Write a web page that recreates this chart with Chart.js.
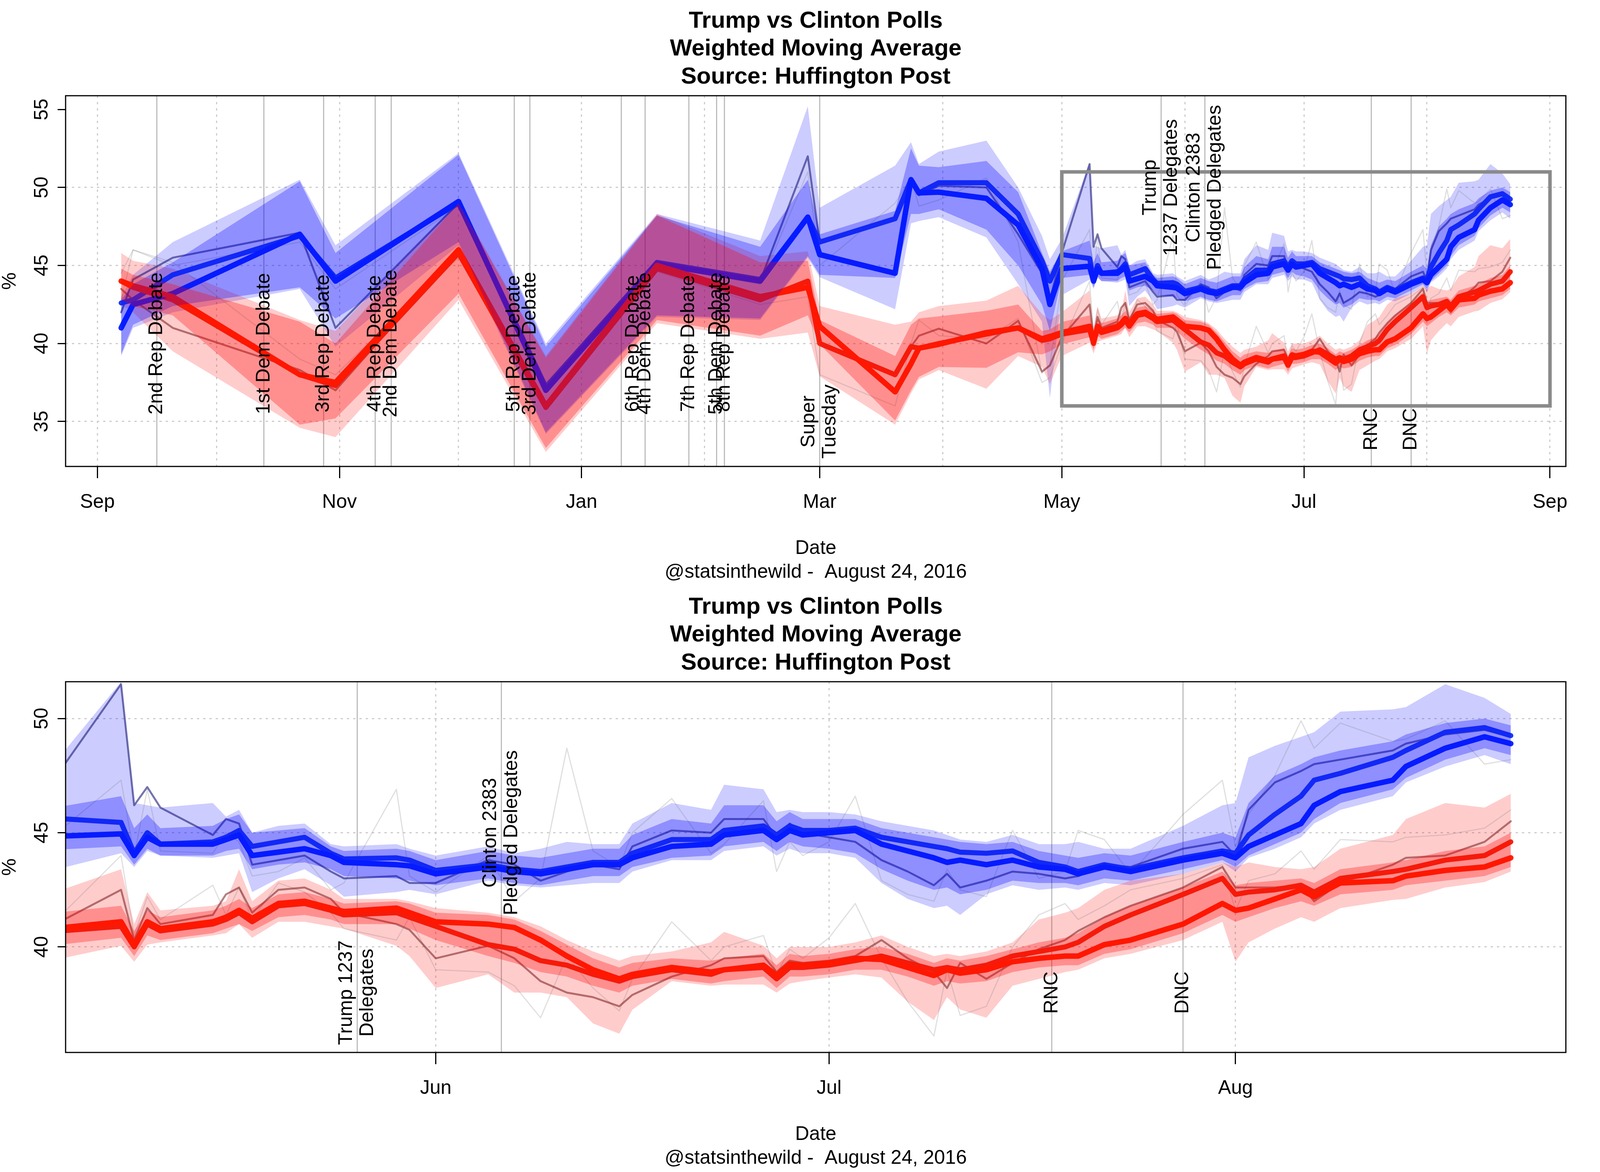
<!DOCTYPE html>
<html>
<head>
<meta charset="utf-8">
<script src="https://cdn.jsdelivr.net/npm/chart.js@4.4.1/dist/chart.umd.min.js"></script>
<style>
html,body{margin:0;padding:0;background:#fff;overflow:hidden;}
#wrap{position:relative;background:#fff;}
canvas{position:absolute;left:0;}
</style>
</head>
<body>
<div id="wrap">
<canvas id="c1"></canvas>
<canvas id="c2"></canvas>
</div>
<script>
// ---- DATA (x = days since 2015-09-01) ----
const days = [6,9,19,51,60,91,113,141,167,179,182,201,205,207,212,224,232,238,240,243,
250,251,252,253,257,258,259,260,262,264,
266,267,271,272,274,278,280,282,284,286,
288,289,292,295,296,299,300,301,302,304,
306,308,310,312,313,314,316,318,320,322,
323,325,327,331,334,335,336,338,340,341,
343,347,348,351,354,356];

const clintonA = [41.0,42.5,43.2,47.0,44.0,49.1,37.0,45.1,44.0,48.1,45.7,44.5,50.5,49.65,49.7,49.3,47.6,44.8,42.5,44.8,
44.95,44.0,44.8,44.5,44.5,44.7,44.9,44.0,44.15,44.3,
44.0,43.7,43.6,43.55,43.2,43.5,43.3,43.2,43.4,43.6,
43.6,43.9,44.4,44.5,44.9,45.1,44.7,45.1,44.9,45.0,
45.1,44.5,44.2,43.9,43.7,43.8,43.6,43.8,43.5,43.4,
43.2,43.5,43.3,43.8,44.1,43.9,44.4,44.9,45.4,46.2,
46.8,47.3,47.9,48.7,49.2,48.9];
const clintonB = [42.6,42.8,44.4,46.9,44.2,49.0,37.2,45.2,44.1,48.1,46.5,48.0,50.5,49.65,50.3,50.3,48.3,45.3,44.0,45.7,
45.45,44.1,45.0,44.5,44.6,44.8,45.1,44.4,44.6,44.8,
44.1,43.85,43.9,43.8,43.35,43.6,43.4,43.3,43.5,43.7,
43.7,44.1,44.7,44.7,45.1,45.3,44.9,45.3,45.1,45.1,
45.2,44.8,44.6,44.4,44.3,44.15,44.1,44.2,43.7,43.5,
43.3,43.6,43.4,43.9,44.2,44.1,44.9,45.8,46.6,47.3,
47.6,48.3,48.6,49.4,49.6,49.25];
const clintonC = [42.0,44.1,45.5,47.1,41.0,49.0,37.0,45.0,44.0,52.0,46.5,48.0,50.5,49.5,50.1,50.0,47.0,44.5,42.8,45.8,
51.5,46.2,47.0,46.1,44.9,45.6,45.4,43.6,43.8,44.0,
43.3,43.0,43.1,42.8,42.8,43.8,43.6,42.9,43.3,43.6,
43.4,44.4,45.1,45.0,45.6,45.6,44.8,45.4,45.0,44.8,
44.6,43.8,43.3,42.7,43.2,42.6,42.9,43.3,43.2,43.0,
43.1,43.6,43.5,44.3,44.6,44.0,46.0,47.2,47.7,48.0,
48.2,48.6,48.9,49.3,49.5,49.2];
const clintonD = [42.8,46.0,45.0,46.5,43.5,48.8,37.5,45.0,43.8,51.0,45.0,49.0,50.6,48.8,49.2,50.6,46.5,38.1,38.6,44.0,
47.3,44.0,46.9,44.2,44.1,45.0,44.6,43.1,43.3,43.9,
42.5,42.8,46.9,43.1,42.4,44.0,42.0,43.0,48.7,44.2,
43.5,45.0,46.5,44.1,44.5,46.4,43.3,44.6,44.0,44.6,
46.6,42.9,42.3,42.0,43.4,42.5,42.2,45.1,43.0,43.3,
45.1,44.7,43.2,45.8,47.3,44.4,45.8,47.5,49.9,48.7,
49.8,49.0,49.1,49.9,48.0,48.2];
const clintonOuterHi = [43.0,44.4,46.5,50.5,46.3,52.2,40.0,48.3,46.6,55.2,48.7,51.4,52.9,51.5,52.3,53.0,50.0,46.9,45.4,46.7,
51.6,46.3,46.2,46.1,46.3,45.7,46.0,45.0,45.3,45.4,
44.5,44.4,44.5,44.3,44.0,44.4,44.1,44.3,44.6,44.5,
44.5,45.4,46.3,46.0,47.1,46.9,45.9,46.0,45.9,45.9,
45.8,45.5,45.3,45.1,44.9,44.7,44.6,44.9,44.5,44.5,
44.6,44.3,44.3,45.3,46.2,46.3,48.3,48.8,49.2,49.4,
50.3,50.4,50.5,51.5,50.9,50.2];
const clintonOuterLo = [39.2,41.0,42.0,43.5,39.8,46.3,34.2,41.7,41.5,45.5,44.25,42.2,47.7,47.85,48.1,46.8,43.8,41.4,36.5,43.1,
44.1,43.5,44.2,44.0,43.9,44.0,44.1,42.4,43.0,43.4,
42.7,42.2,42.4,42.5,42.3,42.9,42.7,42.6,42.7,42.8,
42.8,43.3,43.8,43.8,44.2,44.4,44.0,44.3,44.1,44.1,
43.9,42.8,42.1,41.7,41.8,41.4,42.3,42.7,42.5,42.6,
42.5,42.8,42.7,43.2,43.7,43.3,43.9,44.3,44.8,45.4,
46.0,46.6,47.2,47.9,48.4,48.0];
const clintonInnerHi = [42.8,43.8,45.2,50.4,45.8,52.1,39.8,48.2,46.2,50.5,47.0,48.5,52.5,51.4,51.3,51.7,49.7,45.8,44.6,45.9,
46.6,45.2,45.8,45.2,45.3,45.6,45.8,45.0,45.1,45.2,
44.4,44.2,44.3,44.2,43.8,44.2,44.0,43.9,44.1,44.3,
44.3,44.9,45.6,45.4,46.2,46.2,45.5,45.9,45.6,45.6,
45.6,45.2,45.0,44.8,44.7,44.6,44.5,44.6,44.2,44.0,
43.9,44.1,44.0,44.6,45.0,44.8,46.3,47.5,48.0,48.3,
48.6,49.0,49.3,49.8,50.0,49.7];
const clintonInnerLo = [39.3,41.2,42.4,43.6,41.6,46.5,34.3,41.8,41.6,45.6,44.4,44.2,48.3,48.3,48.6,47.3,45.0,42.5,40.8,44.2,
44.4,43.6,44.3,44.0,44.0,44.2,44.3,43.4,43.6,43.7,
43.4,43.1,43.0,42.9,42.7,43.0,42.8,42.7,42.9,43.1,
43.1,43.5,43.9,44.0,44.4,44.6,44.2,44.6,44.4,44.3,
44.1,43.4,42.9,42.5,42.6,42.3,42.5,42.9,42.8,42.8,
42.7,43.0,42.9,43.4,43.8,43.5,44.0,44.5,45.0,45.6,
46.3,46.9,47.4,48.2,48.7,48.4];

const trumpA = [44.0,43.7,43.0,38.0,37.5,46.0,36.0,45.0,43.0,43.6,41.1,36.9,38.7,39.7,39.95,40.7,41.0,40.3,40.45,40.7,
41.1,40.1,41.1,40.8,41.1,41.3,41.6,41.25,41.9,42.0,
41.7,41.55,41.7,41.5,41.1,41.0,40.85,40.3,39.6,39.0,
38.6,38.8,39.1,38.9,39.0,39.2,38.75,39.25,39.2,39.3,
39.5,39.45,39.1,38.75,39.0,38.85,39.0,39.35,39.5,39.6,
39.6,40.1,40.3,41.0,41.9,41.6,41.7,42.1,42.5,42.2,
42.8,42.9,43.1,43.35,43.5,43.9];
const trumpB = [44.0,43.6,42.8,38.0,37.3,45.8,35.9,44.8,42.8,44.0,40.0,38.0,39.8,39.7,40.0,40.6,41.0,40.2,40.3,40.6,
40.9,40.0,41.0,40.7,41.0,41.2,41.5,41.1,41.8,41.9,
41.6,41.4,41.5,41.3,40.9,40.1,39.9,39.4,39.2,38.8,
38.5,38.7,39.0,38.8,39.0,39.1,38.6,39.1,39.1,39.2,
39.4,39.6,39.3,39.0,39.1,39.0,39.2,39.6,39.8,40.0,
40.2,40.9,41.4,42.3,43.0,42.3,42.4,42.5,42.7,42.4,
43.0,43.3,43.4,43.8,44.0,44.6];
const trumpC = [43.5,42.8,41.0,38.3,37.0,45.9,36.0,45.0,43.0,44.0,40.1,38.0,39.8,40.5,40.95,40.0,41.45,38.2,38.6,40.4,
42.5,40.3,41.7,41.0,41.4,42.3,42.6,41.5,42.5,42.6,
42.1,41.5,41.0,40.75,39.5,40.05,39.5,38.5,38.0,37.8,
37.4,37.9,38.7,39.2,39.5,39.6,38.9,39.4,39.3,39.4,
39.6,40.3,39.5,38.9,38.2,39.3,38.6,39.3,39.9,40.3,
40.7,41.3,41.8,42.6,43.5,42.6,42.6,42.6,42.7,42.0,
42.8,43.6,43.9,44.0,44.6,45.5];
const trumpD = [44.5,46.0,45.2,39.0,38.0,45.5,36.2,44.6,42.5,43.0,38.0,36.0,40.0,41.5,40.5,40.3,41.6,37.5,37.8,40.0,
44.0,40.5,42.2,41.2,42.7,41.4,42.6,41.2,42.8,42.4,
41.5,40.8,40.3,41.3,39.0,38.9,38.3,36.9,39.6,38.2,
37.2,38.6,41.1,39.4,40.0,40.5,38.8,39.9,39.5,40.4,
41.9,39.5,37.6,36.1,39.0,37.0,37.4,40.0,41.4,41.9,
41.2,41.8,42.5,43.0,43.6,41.6,42.9,43.2,44.2,43.4,
44.7,44.6,44.8,44.9,45.2,46.0];
const trumpOuterHi = [45.8,45.3,44.8,41.5,40.8,49.1,39.2,48.3,45.6,45.9,42.4,41.2,41.4,42.0,42.4,42.75,43.7,41.9,41.5,42.0,
43.4,41.0,42.4,41.6,41.8,42.0,43.4,42.0,42.9,43.0,
42.5,42.1,42.1,42.0,41.7,41.5,41.3,40.9,40.3,39.8,
39.4,39.6,39.8,40.2,40.66,40.05,39.5,40.0,40.0,40.0,
40.2,40.5,40.0,39.6,39.7,39.6,39.8,40.2,41.2,41.5,
41.7,42.5,42.9,43.2,43.7,43.5,43.7,43.5,43.4,43.5,
44.3,44.9,45.6,46.3,46.1,46.7];
const trumpOuterLo = [42.5,42.0,39.5,34.6,34.0,42.8,33.05,41.3,40.3,40.7,37.9,34.8,36.8,37.7,38.3,37.1,39.2,38.5,37.4,39.2,
40.05,39.35,40.1,40.2,40.5,40.6,41.0,40.4,41.1,41.1,
40.9,40.8,40.05,39.6,38.2,38.8,38.0,38.0,37.8,36.65,
36.2,37.25,38.5,38.3,38.35,38.35,38.0,38.4,38.5,38.66,
38.8,38.66,37.6,36.8,37.8,37.26,36.9,38.3,38.6,38.9,
39.0,39.5,39.7,40.3,41.1,39.35,40.2,40.8,41.3,41.1,
41.7,42.06,42.1,42.6,42.84,43.3];
const trumpInnerHi = [44.8,44.4,43.8,41.4,40.0,49.0,39.1,48.2,45.2,45.3,41.5,39.2,41.2,41.6,41.74,42.1,42.5,40.8,40.9,41.38,
41.8,40.7,41.6,41.3,41.6,41.8,42.1,41.7,42.3,42.4,
42.1,41.9,42.0,41.9,41.5,41.4,41.2,40.7,40.1,39.5,
39.1,39.3,39.5,39.4,39.5,39.7,39.2,39.7,39.6,39.7,
39.9,40.0,39.7,39.3,39.5,39.4,39.6,39.9,40.2,40.4,
40.6,41.3,41.8,42.6,43.3,42.7,42.8,42.9,43.0,42.8,
43.4,43.7,43.8,44.2,44.4,45.0];
const trumpInnerLo = [42.8,42.4,41.8,34.8,35.2,43.2,33.3,41.5,40.5,41.8,39.95,35.06,37.0,37.86,38.5,38.44,39.44,39.3,39.5,39.95,
40.4,39.6,40.5,40.3,40.6,40.8,41.0,40.7,41.3,41.4,
41.2,41.0,41.0,40.8,40.3,39.6,39.3,38.9,38.7,38.3,
38.0,38.3,38.6,38.4,38.5,38.7,38.2,38.7,38.7,38.8,
39.0,39.0,38.7,38.3,38.5,38.4,38.5,38.9,39.1,39.2,
39.2,39.7,39.9,40.6,41.4,41.1,41.3,41.7,42.0,41.8,
42.3,42.5,42.7,42.9,43.1,43.5];

const boxDays = [243,366,366,243,243];
const boxVals = [51,51,36,36,51];

const monthDays  = [0,30,61,91,122,153,182,213,243,274,304,335,366];
const monthNames = ['Sep','Oct','Nov','Dec','Jan','Feb','Mar','Apr','May','Jun','Jul','Aug','Sep'];
const upperLabeledMonths = [0,61,122,182,243,304,366];
const lowerLabeledMonths = [274,304,335];

const upperEventDays = [15,42,57,70,74,105,109,132,138,149,156,158,182,268,279,321,331];
const upperLabelDays = [15,42,57,70,74,105,109,135,138,149,156,158,182,268,279,321,331];
const upperLabelText = ['2nd Rep Debate','1st Dem Debate','3rd Rep Debate','4th Rep Debate','2nd Dem Debate',
  '5th Rep Debate','3rd Dem Debate','6th Rep Debate','4th Dem Debate','7th Rep Debate','5th Dem Debate',
  '8th Rep Debate','Super\nTuesday','Trump\n1237 Delegates','Clinton 2383\nPledged Delegates','RNC','DNC'];
const upperLabelY = [40,40,40,40,40,40,40,40,40,40,40,40,35,50,50,34.5,34.5];
const lowerEventDays = [268,279,321,331];
const lowerLabelText = ['Trump 1237\nDelegates','Clinton 2383\nPledged Delegates','RNC','DNC'];
const lowerLabelY = [38,45,38,38];

const upperYTicks = [35,40,45,50,55];
const upperYGrid = [35,40,45,50];
const lowerYTicks = [40,45,50];

const titleLines = ['Trump vs Clinton Polls','Weighted Moving Average','Source: Huffington Post'];
const xTitleLines = ['Date','@statsinthewild -  August 24, 2016'];

[clintonA,clintonB,clintonC,clintonD,clintonOuterHi,clintonOuterLo,clintonInnerHi,clintonInnerLo,
 trumpA,trumpB,trumpC,trumpD,trumpOuterHi,trumpOuterLo,trumpInnerHi,trumpInnerLo].forEach((a,i)=>{
  if (a.length !== days.length) throw new Error('length mismatch in series ' + i + ': ' + a.length);
});

// ---- LAYOUT: fit the 6000x3000 design into the actual window ----
const W = Math.max(800, Math.min(6000, window.innerWidth || 6000));
const H = Math.max(600, Math.min(3000, window.innerHeight || 3000));
const sx = W / 6000, sy = H / 3000;
const PH = Math.round(H / 2);
const wrap = document.getElementById('wrap');
wrap.style.width = W + 'px'; wrap.style.height = H + 'px';
['c1','c2'].forEach((id, k) => {
  const c = document.getElementById(id);
  c.width = W; c.height = PH; c.style.top = (k * PH) + 'px';
  c.style.width = W + 'px'; c.style.height = PH + 'px';
});

// ---- RENDERING ----
const FONT = '"Liberation Sans", Arial, Helvetica, sans-serif';
const FS = Math.round(50 * sy);
const TFS = Math.round(60 * sy);
function pts(arr){ return days.map((d,i)=>({x:d, y:arr[i]})); }

function buildDatasets(withBox){
  const L = [];
  const band = (hi, lo, color, order) => {
    L.push({data: pts(hi), fill: '+1', backgroundColor: color, borderColor: 'rgba(0,0,0,0)', borderWidth: 0, pointRadius: 0, order: order, clip: 0});
    L.push({data: pts(lo), fill: false, backgroundColor: 'rgba(0,0,0,0)', borderColor: 'rgba(0,0,0,0)', borderWidth: 0, pointRadius: 0, order: order, clip: 0});
  };
  const line = (arr, color, w, order) => L.push({data: pts(arr), borderColor: color, borderWidth: w, pointRadius: 0,
    fill: false, order: order, clip: 0, borderJoinStyle: 'round', borderCapStyle: 'round'});
  band(clintonOuterHi, clintonOuterLo, 'rgba(0,0,255,0.2)', 100);
  band(trumpOuterHi, trumpOuterLo, 'rgba(255,0,0,0.2)', 90);
  line(clintonD, 'rgba(110,110,120,0.22)', 3, 80);
  line(trumpD, 'rgba(120,110,110,0.22)', 3, 79);
  line(clintonC, 'rgba(25,25,120,0.6)', 5, 70);
  line(trumpC, 'rgba(120,25,25,0.55)', 5, 69);
  line(clintonB, '#1b3af2', 13, 60);
  line(trumpB, '#f2260f', 13, 59);
  line(clintonA, '#0a28ff', 14, 50);
  line(trumpA, '#ff2200', 14, 49);
  band(clintonInnerHi, clintonInnerLo, 'rgba(0,0,255,0.3)', 40);
  band(trumpInnerHi, trumpInnerLo, 'rgba(255,0,0,0.3)', 30);
  if (withBox) {
    L.push({data: boxDays.map((d,i)=>({x:d, y:boxVals[i]})), borderColor: '#8a8a8a', borderWidth: 9, pointRadius: 0,
      fill: false, order: 10, clip: 0, borderJoinStyle: 'miter', borderCapStyle: 'square'});
  }
  return L;
}

function rot(ctx, s, x, y){
  ctx.save(); ctx.translate(x, y); ctx.rotate(-Math.PI/2);
  ctx.textAlign = 'center'; ctx.textBaseline = 'middle';
  ctx.fillText(s, 0, 0); ctx.restore();
}

const decor = {
  id: 'decor',
  afterDraw(chart, args, opts){
    const ctx = chart.ctx, a = chart.chartArea;
    const xs = chart.scales.x, ys = chart.scales.y;
    ctx.save();
    ctx.setLineDash([]);
    ctx.strokeStyle = '#000'; ctx.lineWidth = 3;
    ctx.strokeRect(a.left, a.top, a.right - a.left, a.bottom - a.top);
    ctx.fillStyle = '#000';
    const cx = (a.left + a.right) / 2;
    ctx.textAlign = 'center'; ctx.textBaseline = 'middle';
    ctx.font = 'bold ' + TFS + 'px ' + FONT;
    titleLines.forEach((t, i) => ctx.fillText(t, cx, (54 + i * 71.5) * sy));
    ctx.font = FS + 'px ' + FONT;
    ctx.fillText(xTitleLines[0], cx, 1404 * sy);
    ctx.fillText(xTitleLines[1], cx, 1465 * sy);
    rot(ctx, '%', Math.max(38 * sx, FS * 0.5), (a.top + a.bottom) / 2);
    opts.yTicks.forEach(v => rot(ctx, String(v), a.left - 88 * sx, ys.getPixelForValue(v)));
    const gap = 60 * Math.max(sx, 0.9);
    opts.labelDays.forEach((d, i) => {
      const x = xs.getPixelForValue(d), y = ys.getPixelForValue(opts.labelY[i]);
      const lines = opts.labelText[i].split('\n');
      lines.forEach((s, j) => rot(ctx, s, x + (j - (lines.length - 1) / 2) * gap, y));
    });
    ctx.restore();
  }
};

function makeChart(id, cfg){
  const labeled = new Set(cfg.labeledMonths);
  const gridSet = new Set(cfg.yGrid);
  return new Chart(document.getElementById(id), {
    type: 'line',
    data: { datasets: buildDatasets(cfg.box) },
    options: {
      responsive: false, animation: false, devicePixelRatio: 1, events: [],
      layout: { padding: { left: 0, top: 245 * sy, right: 128 * sx, bottom: 0 } },
      plugins: {
        legend: { display: false }, tooltip: { enabled: false }, title: { display: false },
        decor: { yTicks: cfg.yTicks, labelDays: cfg.labelDays, labelText: cfg.labelText, labelY: cfg.labelY }
      },
      scales: {
        x: {
          type: 'linear', axis: 'x', position: 'bottom', min: cfg.xmin, max: cfg.xmax,
          afterBuildTicks: s => { s.ticks = monthDays.filter(d => d >= cfg.xmin && d <= cfg.xmax).map(v => ({value: v})); },
          afterFit: s => { s.height = PH - 1194 * sy; },
          border: { display: false, dash: [6, 10] },
          grid: { color: '#cdcdcd', lineWidth: 3, drawTicks: true, tickLength: 30 * sy,
                  tickWidth: 3, tickBorderDash: [0, 0],
                  tickColor: c => (c.tick && labeled.has(c.tick.value)) ? '#000' : 'rgba(0,0,0,0)' },
          ticks: { autoSkip: false, maxRotation: 0, minRotation: 0, padding: 32 * sy, color: '#000',
                   font: { family: FONT, size: FS },
                   callback: v => labeled.has(v) ? monthNames[monthDays.indexOf(v)] : '' }
        },
        xe: {
          type: 'linear', axis: 'x', position: 'bottom', min: cfg.xmin, max: cfg.xmax,
          afterBuildTicks: s => { s.ticks = cfg.eventDays.filter(d => d >= cfg.xmin && d <= cfg.xmax).map(v => ({value: v})); },
          afterFit: s => { s.height = 0; },
          border: { display: false },
          grid: { color: '#bebebe', lineWidth: 3, drawTicks: false },
          ticks: { display: false }
        },
        y: {
          type: 'linear', axis: 'y', position: 'left', min: cfg.ymin, max: cfg.ymax,
          afterBuildTicks: s => { s.ticks = cfg.yTicks.map(v => ({value: v})); },
          afterFit: s => { s.width = 246 * sx; },
          border: { display: false, dash: [6, 10] },
          grid: { lineWidth: 3, drawTicks: true, tickLength: 30 * sx, tickWidth: 3,
                  tickBorderDash: [0, 0], tickColor: '#000',
                  color: c => (c.tick && gridSet.has(c.tick.value)) ? '#cdcdcd' : 'rgba(0,0,0,0)' },
          ticks: { display: false }
        }
      }
    },
    plugins: [decor]
  });
}

makeChart('c1', {
  xmin: -8, xmax: 370, ymin: 32.12, ymax: 55.88,
  yTicks: upperYTicks, yGrid: upperYGrid, labeledMonths: upperLabeledMonths,
  eventDays: upperEventDays, labelDays: upperLabelDays, labelText: upperLabelText, labelY: upperLabelY, box: true
});
makeChart('c2', {
  xmin: 245.77, xmax: 360.2, ymin: 35.38, ymax: 51.61,
  yTicks: lowerYTicks, yGrid: lowerYTicks, labeledMonths: lowerLabeledMonths,
  eventDays: lowerEventDays, labelDays: lowerEventDays, labelText: lowerLabelText, labelY: lowerLabelY, box: false
});
</script>
</body>
</html>
